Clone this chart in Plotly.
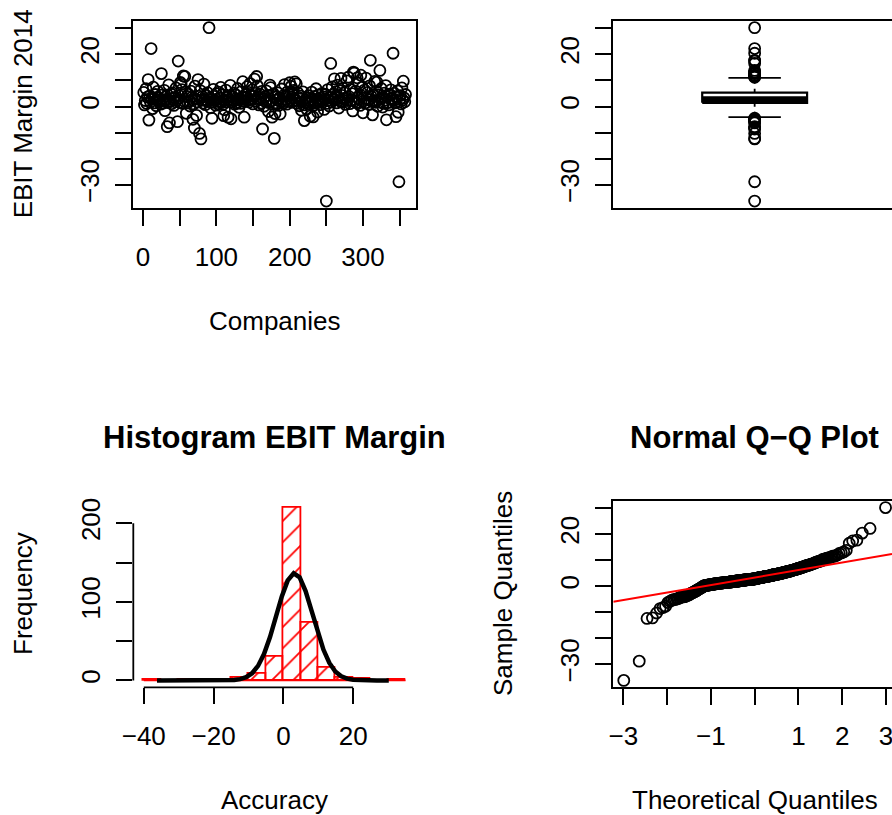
import math
from statistics import NormalDist
import numpy as np
import plotly.graph_objects as go

# ---------------- data ----------------
ebit_margin_2014 = [
    5.4, 0.6, 2.3, 6.8, 1.2, 3.6, 10.3, -5.2, 4.1, 1.7, 22.2, 2.8, -0.8, 7.4, 3.1, 1.4, 4.6, 0.3, 2.5, 5.8,
    3.3, 1.9, 2.6, 0.9, 12.6, 4.4, 1.3, 2.1, 6.2, -1.6, 3.8, 2.7, -7.7, 1.5, 8.3, -6.3, 2.2, 4.8, 1.1, 5.2,
    2.9, 0.4, 3.5, 1.8, 7.1, 2.4, -5.8, 17.4, 4.2, 1.6, 9.2, 8.5, 6.5, 1.2, 11.7, 2.0, 11.5, 5.6, -2.6, 3.9,
    1.4, 4.7, 2.2, 0.2, 5.9, 3.4, 2.6, -4.9, 1.0, -8.2, 7.8, 2.9, -3.4, 1.7, 10.3, 4.0, -10.3, 6.1, -12.4, 2.4,
    3.7, 1.3, 8.6, 2.5, 0.7, 4.3, 2.1, 5.3, 1.9, 30.2, 3.2, -0.5, 2.8, -4.5, 1.6, 6.6, 3.9, 2.3, 0.5, 4.9,
    2.7, 1.1, 5.5, 3.3, 2.0, 7.3, 1.5, 4.5, 0.8, -3.5, -1.2, 2.4, 6.3, 1.8, 3.6, -4.1, 2.6, 4.1, 8.1, -4.7,
    1.6, 3.8, 2.2, 5.1, 0.9, 2.9, 4.4, 1.4, 6.9, 2.5, -0.3, 3.1, 1.2, 5.7, 2.1, 9.5, 3.5, -4.1, 1.9, 4.6,
    3.4, 7.6, 2.3, 5.4, 1.7, 8.8, 4.2, 2.7, 6.4, 1.0, 3.9, 10.5, 5.0, 2.0, 11.5, 7.9, 3.2, 0.6, 4.8, 2.6,
    1.3, 5.8, -8.6, 2.8, 0.1, 3.7, 1.8, 6.0, 2.4, 4.3, -1.9, 1.5, 8.2, 7.2, 2.1, -4.1, 0.8, 4.9, -12.2, -2.7,
    3.6, 1.1, 2.5, 5.2, 0.4, 3.3, -2.9, 1.7, 6.7, 2.2, 4.1, 1.4, 8.4, 2.7, 3.8, 0.9, 5.6, 2.0, 4.7, 9.1,
    2.6, 7.7, 1.6, 4.5, 6.2, 3.1, 9.4, 2.3, 8.7, 1.2, 5.3, 3.5, 0.3, 2.8, 4.0, -1.4, 1.9, 5.6, 0.6, -5.4,
    1.5, 2.4, -0.9, 3.4, 1.0, 4.2, 2.1, -3.7, 1.8, 5.5, 2.7, -4.0, 0.5, 3.9, 1.3, 6.8, 2.5, -2.1, 4.4, 1.9,
    3.2, 0.7, 2.2, 5.0, 1.6, 3.7, -1.1, 2.9, 4.6, -36.2, 1.2, 6.5, 2.4, 0.2, 3.5, 16.5, 1.7, 7.5, 2.8, 4.8,
    10.6, 2.6, 5.7, 1.4, 8.2, 3.6, -0.6, 6.1, 2.0, 10.8, 4.3, 1.8, 7.0, 2.9, 5.2, 0.8, 3.3, 9.8, 2.3, 11.2,
    3.8, 1.1, 6.6, 2.5, 4.9, -1.7, 13.2, 12.8, 2.1, 5.9, 1.5, 11.0, 3.4, 8.9, 2.7, 0.4, 12.0, 4.1, 7.4, -2.4,
    2.2, 6.3, 1.3, 10.9, 3.1, 5.4, 2.6, 0.9, 7.9, 17.7, 3.9, 1.9, -3.2, 4.5, 2.3, 9.6, 1.6, 5.8, 9.3, 0.1,
    4.4, 1.7, 13.8, 2.8, 6.9, 3.5, -0.2, 1.2, 5.1, 2.4, 8.0, -5.1, 3.7, 1.5, 0.6, 4.7, 4.5, 6.4, 2.9, 3.2,
    20.4, 2.3, 5.0, 1.4, -3.9, 3.6, 6.0, -2.2, -28.8, 2.7, 4.2, 1.0, 7.1, 2.5, 9.7, 3.3, 1.8, 4.6,
]

company_tick_values = [0, 50, 100, 150, 200, 250, 300, 350]
company_tick_labels = ["0", "", "100", "", "200", "", "300", ""]
margin_tick_values = [-30, -20, -10, 0, 10, 20, 30]
margin_tick_labels = ["\u221230", "", "", "0", "", "20", ""]
hist_breaks = [-40, -35, -30, -25, -20, -15, -10, -5, 0, 5, 10, 15, 20, 25, 30, 35]
accuracy_tick_values = [-40, -20, 0, 20]
accuracy_tick_labels = ["\u221240", "\u221220", "0", "20"]
frequency_tick_values = [0, 50, 100, 150, 200]
frequency_tick_labels = ["0", "", "100", "", "200"]
theoretical_tick_values = [-3, -2, -1, 0, 1, 2, 3]
theoretical_tick_labels = ["\u22123", "", "\u22121", "", "1", "2", "3"]

# ---------------- layout constants ----------------
W, H = 892, 815
FONT = "Liberation Sans, Arial, Helvetica, sans-serif"
LW = 1.8
TL = 16
FS = 26
MS = 11

COL_L = (133.3, 416.0)
COL_R = (613.3, 896.0)
ROW_T = (20.7, 208.0)
ROW_B = (500.7, 687.3)


def dom_x(col):
    return [col[0] / W, min(col[1] / W, 1.0)]


def dom_y(row):
    return [1 - row[1] / H, 1 - row[0] / H]


def clip_range(r, col):
    a, b = col
    if b <= W:
        return r
    frac = (W - a) / (b - a)
    return [r[0], r[0] + (r[1] - r[0]) * frac]


def ext(lo, hi, f=0.04):
    d = (hi - lo) * f
    return [lo - d, hi + d]


data = np.array(ebit_margin_2014, dtype=float)
n = len(data)
idx = np.arange(1, n + 1)
yr = ext(data.min(), data.max())

fig = go.Figure()
black = "black"
circ = dict(symbol="circle-open", size=MS, color=black, line=dict(width=LW, color=black))

# ---- panel 1: index plot ----
fig.add_trace(go.Scatter(x=idx, y=data, mode="markers", xaxis="x", yaxis="y",
                         marker=circ, showlegend=False, hoverinfo="skip"))

# ---- panel 2: boxplot (Tukey five-number summary, as in R) ----
s = np.sort(data)
n4 = math.floor((n + 3) / 2) / 2
dpos = [1, n4, (n + 1) / 2, n + 1 - n4, n]
fn = [0.5 * (s[math.floor(d) - 1] + s[math.ceil(d) - 1]) for d in dpos]
q1, med, q3 = fn[1], fn[2], fn[3]
iqr = q3 - q1
inside = s[(s >= q1 - 1.5 * iqr) & (s <= q3 + 1.5 * iqr)]
wlo, whi = inside.min(), inside.max()
outl = s[(s < wlo) | (s > whi)]
bw = 0.371 / 2
sw = bw / 2
xa, xb = 1 - bw, 1 + bw
box_kw = dict(xaxis="x2", yaxis="y2", mode="lines", showlegend=False, hoverinfo="skip")
fig.add_trace(go.Scatter(x=[1, 1], y=[q3, whi], line=dict(color=black, width=LW, dash="4px,5px"), **box_kw))
fig.add_trace(go.Scatter(x=[1, 1], y=[q1, wlo], line=dict(color=black, width=LW, dash="4px,5px"), **box_kw))
fig.add_trace(go.Scatter(x=[1 - sw, 1 + sw], y=[whi, whi], line=dict(color=black, width=LW), **box_kw))
fig.add_trace(go.Scatter(x=[1 - sw, 1 + sw], y=[wlo, wlo], line=dict(color=black, width=LW), **box_kw))
fig.add_trace(go.Scatter(x=[xa, xb, xb, xa, xa], y=[q1, q1, q3, q3, q1],
                         fill="toself", fillcolor="white", line=dict(color=black, width=2.2), **box_kw))
fig.add_trace(go.Scatter(x=[xa, xb], y=[med, med], line=dict(color=black, width=6), **box_kw))
fig.add_trace(go.Scatter(x=[1] * len(outl), y=outl, mode="markers", xaxis="x2", yaxis="y2",
                         marker=circ, showlegend=False, hoverinfo="skip"))

# ---- panel 3: histogram with normal curve ----
counts = []
for i in range(len(hist_breaks) - 1):
    lo, hi = hist_breaks[i], hist_breaks[i + 1]
    if i == 0:
        c = int(np.sum((data >= lo) & (data <= hi)))
    else:
        c = int(np.sum((data > lo) & (data <= hi)))
    counts.append(c)
mids = [(hist_breaks[i] + hist_breaks[i + 1]) / 2 for i in range(len(hist_breaks) - 1)]
binw = hist_breaks[1] - hist_breaks[0]
fig.add_trace(go.Scatter(x=[hist_breaks[0], hist_breaks[-1]], y=[0, 0], mode="lines",
                         line=dict(color="red", width=LW), xaxis="x3", yaxis="y3",
                         showlegend=False, hoverinfo="skip"))
fig.add_trace(go.Bar(
    x=mids, y=counts, width=binw, xaxis="x3", yaxis="y3",
    marker=dict(color="rgba(0,0,0,0)", line=dict(color="red", width=LW),
                pattern=dict(shape="/", fgcolor="red", bgcolor="rgba(0,0,0,0)",
                             size=15, solidity=0.12, fillmode="overlay", fgopacity=1)),
    showlegend=False, hoverinfo="skip"))
mu, sd = data.mean(), data.std(ddof=1)
xfit = np.linspace(data.min(), data.max(), 40)
yfit = np.exp(-0.5 * ((xfit - mu) / sd) ** 2) / (sd * math.sqrt(2 * math.pi)) * binw * n
fig.add_trace(go.Scatter(x=xfit, y=yfit, mode="lines", line=dict(color=black, width=4.5),
                         xaxis="x3", yaxis="y3", showlegend=False, hoverinfo="skip"))

# ---- panel 4: normal Q-Q ----
nd = NormalDist()
a = 0.375 if n <= 10 else 0.5
theo = np.array([nd.inv_cdf((i - a) / (n + 1 - 2 * a)) for i in range(1, n + 1)])
fig.add_trace(go.Scatter(x=theo, y=s, mode="markers", xaxis="x4", yaxis="y4",
                         marker=circ, showlegend=False, hoverinfo="skip"))
yq = np.percentile(data, [25, 75])
xq = [nd.inv_cdf(0.25), nd.inv_cdf(0.75)]
slope = (yq[1] - yq[0]) / (xq[1] - xq[0])
icpt = yq[0] - slope * xq[0]
qx_full = ext(theo.min(), theo.max())
qx = clip_range(qx_full, COL_R)
fig.add_trace(go.Scatter(x=qx, y=[icpt + slope * qx[0], icpt + slope * qx[1]], mode="lines",
                         line=dict(color="red", width=2), xaxis="x4", yaxis="y4",
                         showlegend=False, hoverinfo="skip"))

# ---------------- axes ----------------
tickfont = dict(family=FONT, size=FS, color=black)


def ax(**kw):
    d = dict(ticks="outside", ticklen=TL, tickwidth=LW, tickcolor=black, showgrid=False,
             zeroline=False, tickfont=tickfont, linecolor=black, linewidth=LW,
             fixedrange=True, automargin=False, ticklabeloverflow="allow")
    d.update(kw)
    return d


XSTAND = 9
YSTAND = 6
fig.update_layout(
    xaxis=ax(domain=dom_x(COL_L), anchor="y", range=ext(1, n), tickmode="array",
             tickvals=company_tick_values, ticktext=company_tick_labels,
             showline=True, mirror=True, ticklabelstandoff=XSTAND),
    yaxis=ax(domain=dom_y(ROW_T), anchor="x", range=yr, tickmode="array",
             tickvals=margin_tick_values, ticktext=margin_tick_labels, tickangle=-90,
             showline=True, mirror=True, ticklabelstandoff=YSTAND),
    xaxis2=ax(domain=dom_x(COL_R), anchor="y2", range=clip_range([0.5, 1.5], COL_R),
              ticks="", showticklabels=False, showline=True, mirror=True),
    yaxis2=ax(domain=dom_y(ROW_T), anchor="x2", range=yr, tickmode="array",
              tickvals=margin_tick_values, ticktext=margin_tick_labels, tickangle=-90,
              showline=True, mirror=False, ticklabelstandoff=YSTAND),
    xaxis3=ax(domain=dom_x(COL_L), anchor="y3", range=ext(hist_breaks[0], hist_breaks[-1]),
              tickmode="array", tickvals=accuracy_tick_values, ticktext=accuracy_tick_labels,
              showline=False, ticklabelstandoff=XSTAND),
    yaxis3=ax(domain=dom_y(ROW_B), anchor="x3", range=ext(0, max(counts)), tickmode="array",
              tickvals=frequency_tick_values, ticktext=frequency_tick_labels, tickangle=-90,
              showline=False, ticklabelstandoff=YSTAND),
    xaxis4=ax(domain=dom_x(COL_R), anchor="y4", range=qx, tickmode="array",
              tickvals=theoretical_tick_values, ticktext=theoretical_tick_labels,
              showline=True, mirror=True, ticklabelstandoff=XSTAND),
    yaxis4=ax(domain=dom_y(ROW_B), anchor="x4", range=yr, tickmode="array",
              tickvals=margin_tick_values, ticktext=margin_tick_labels, tickangle=-90,
              showline=True, mirror=False, ticklabelstandoff=YSTAND),
)

# R-style axis lines spanning first to last tick (histogram panel)
fig.add_shape(type="line", xref="x3", yref="y3 domain", x0=accuracy_tick_values[0],
              x1=accuracy_tick_values[-1], y0=0, y1=0, line=dict(color=black, width=LW))
fig.add_shape(type="line", xref="x3 domain", yref="y3", x0=0, x1=0,
              y0=frequency_tick_values[0], y1=frequency_tick_values[-1],
              line=dict(color=black, width=LW))


# ---------------- titles ----------------
def note(text, xpx, ypx, size=FS, angle=0, bold=False):
    fig.add_annotation(
        text=f"<b>{text}</b>" if bold else text, x=xpx / W, y=1 - ypx / H, xref="paper", yref="paper",
        xanchor="center", yanchor="middle", showarrow=False, textangle=angle,
        font=dict(family=FONT, size=size, color=black))


cxL = (COL_L[0] + COL_L[1]) / 2
cxR = (COL_R[0] + COL_R[1]) / 2
note("Companies", cxL, 321)
note("EBIT Margin 2014", 23, (ROW_T[0] + ROW_T[1]) / 2, angle=-90)
note("Histogram EBIT Margin", cxL, 437, size=31, bold=True)
note("Frequency", 23, (ROW_B[0] + ROW_B[1]) / 2, angle=-90)
note("Accuracy", cxL, 800)
note("Normal Q\u2212Q Plot", cxR, 437, size=31, bold=True)
note("Sample Quantiles", 503, (ROW_B[0] + ROW_B[1]) / 2, angle=-90)
note("Theoretical Quantiles", cxR, 800)

fig.update_layout(
    width=W, height=H, margin=dict(l=0, r=0, t=0, b=0, autoexpand=False),
    paper_bgcolor="white", plot_bgcolor="white", showlegend=False,
    bargap=0, font=dict(family=FONT, color=black),
)

fig.write_html("out.html", config={"displayModeBar": False})
